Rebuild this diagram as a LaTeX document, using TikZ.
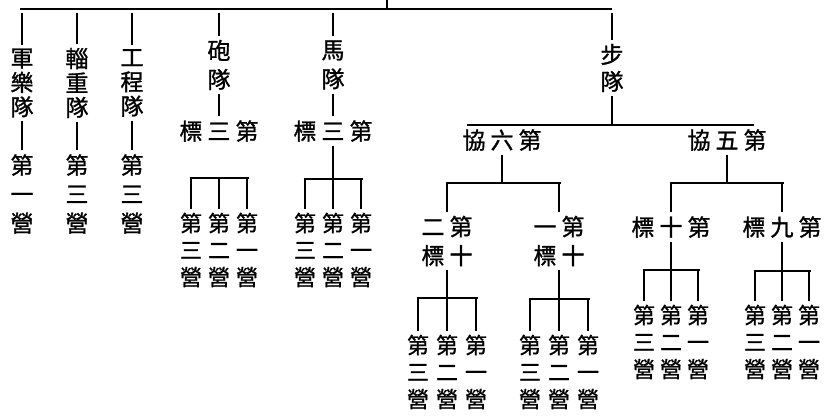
\documentclass[tikz,border=0pt]{standalone}
\usepackage{fontspec}
\usepackage{tikz}
\newfontfamily\cjk{Noto Sans CJK TC}[FakeBold=1.2]
\newcommand{\cgap}{\hspace{5pt}}

\begin{document}
\begin{tikzpicture}[x=1pt,y=-1pt,
  lbl/.style={font=\cjk\fontsize{23}{24.5}\selectfont,align=center,
    inner sep=0pt,outer sep=4pt},
  lblw/.style={lbl,font=\cjk\fontsize{23}{29}\selectfont},
  leaf/.style={lbl,font=\cjk\fontsize{22}{27}\selectfont},
  ln/.style={line width=1.2pt},
  bar/.style={line width=1.7pt,shorten <=-1.5pt,shorten >=-1.5pt},
  bus/.style={line width=2pt}]
  \useasboundingbox (0,0) rectangle (830,417);

  \coordinate (root) at (387,0);
  \coordinate (busL) at (20,9);
  \coordinate (busR) at (612,9);
  \draw[ln] (root) -- (root |- busL);
  \draw[bus] (busL) -- (busR);

  % branches hanging from the top line
  \node[lbl] (junyue) at (22,83) {軍\\樂\\隊};
  \node[lbl] (zizhong) at (77,83) {輜\\重\\隊};
  \node[lbl] (gongcheng) at (132,83) {工\\程\\隊};
  \node[lblw] (junyue1) at (22,194) {第\\一\\營};
  \node[lblw] (zizhong3) at (77,194) {第\\三\\營};
  \node[lblw] (gongcheng3) at (132,194) {第\\三\\營};
  \node[lblw] (paodui) at (219,65) {砲\\隊};
  \node[lblw] (madui) at (333,65) {馬\\隊};
  \node[lbl] (paobiao) at (219,131) {標\cgap 三\cgap 第};
  \node[lbl] (mabiao) at (333,131) {標\cgap 三\cgap 第};
  \node[lbl,font=\cjk\fontsize{23}{27}\selectfont] (budui) at (612,68) {步\\隊};

  \foreach \n in {junyue,zizhong,gongcheng,paodui,madui,budui}
    \draw[ln,shorten <=4pt] (\n.north |- busL) -- (\n.north);
  \foreach \a/\b in {junyue/junyue1,zizhong/zizhong3,gongcheng/gongcheng3,
      paodui/paobiao,madui/mabiao}
    \draw[ln] (\a.south) -- (\b.north);

  % infantry
  \node[lbl] (xie6) at (502,140) {協\cgap 六\cgap 第};
  \node[lbl] (xie5) at (727,140) {協\cgap 五\cgap 第};
  \coordinate (bubar) at (612,125);
  \coordinate (bubarL) at (468,125);
  \coordinate (bubarR) at (752,125);
  \draw[ln] (budui.south) -- (bubar);
  \draw[bar] (bubarL) -- (bubarR);

  \node[lblw] (biao12) at (447,241) {二\cgap 第\\標\cgap 十};
  \node[lblw] (biao11) at (559,241) {一\cgap 第\\標\cgap 十};
  \node[lbl] (biao10) at (671,227) {標\cgap 十\cgap 第};
  \node[lbl] (biao9) at (782,227) {標\cgap 九\cgap 第};

  \coordinate (xie6-bar) at (502,183);
  \coordinate (xie5-bar) at (727,183);
  \draw[ln] (xie6.south) -- (xie6-bar);
  \draw[ln] (xie5.south) -- (xie5-bar);
  \draw[bar] (biao12.north |- xie6-bar) -- (biao11.north |- xie6-bar);
  \draw[bar] (biao10.north |- xie5-bar) -- (biao9.north |- xie5-bar);
  \foreach \c/\p in {biao12/xie6,biao11/xie6,biao10/xie5,biao9/xie5}
    \draw[ln] (\c.north |- \p-bar) -- (\c.north);

  % battalions
  \foreach \g/\xa/\xb/\xc/\yb/\yl in {paobiao/191/219/247/178/250,
      mabiao/305/333/361/179/250,biao12/418/447/476/298/372,
      biao11/530/559/588/299/372,biao10/644/671/698/270/342,
      biao9/755/782/809/271/342}
  {
    \node[leaf] (\g-3) at (\xa,\yl) {第\\三\\營};
    \node[leaf] (\g-2) at (\xb,\yl) {第\\二\\營};
    \node[leaf] (\g-1) at (\xc,\yl) {第\\一\\營};
    \coordinate (\g-bar) at (\xb,\yb);
    \draw[bar] (\g-3.north |- \g-bar) -- (\g-1.north |- \g-bar);
    \foreach \k in {1,2,3}
      \draw[ln] (\g-\k.north |- \g-bar) -- (\g-\k.north);
  }
  \foreach \g in {mabiao,biao12,biao11,biao10,biao9}
    \draw[ln] (\g.south) -- (\g-bar);
\end{tikzpicture}
\end{document}
